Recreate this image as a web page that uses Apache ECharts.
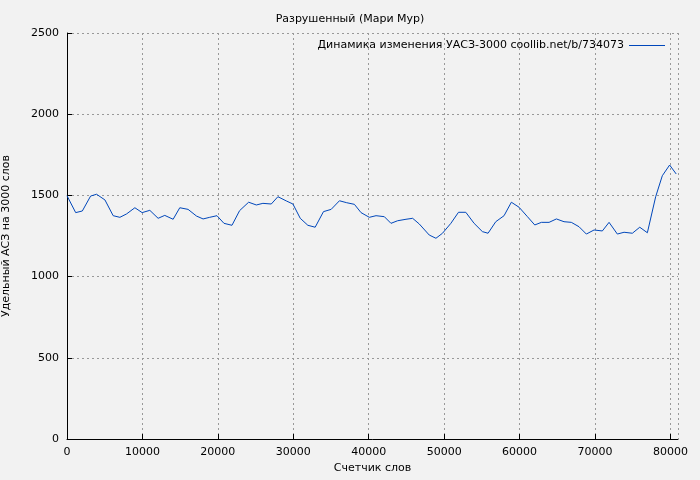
<!DOCTYPE html>
<html>
<head>
<meta charset="utf-8">
<script src="https://cdn.jsdelivr.net/npm/echarts@6/dist/echarts.min.js"></script>
<style>body{margin:0;background:#f2f2f2}#chart{width:700px;height:480px}</style>
</head>
<body>
<div id="chart"></div>
<script>
// words counted vs specific AСЗ value
var words = [0,1150,2030,3130,3920,5030,6120,7010,7900,9000,9960,10980,12080,12960,14070,14950,16050,17160,18040,18920,19880,20810,21870,22880,24080,25100,25970,27080,27960,29070,29950,30920,31930,32900,34000,35020,36120,37080,38100,38980,40080,40970,42070,42950,43830,44940,45820,46700,48020,48910,49780,50890,51900,52870,53970,55070,55820,56840,57940,58910,59930,61040,62010,62890,63910,64880,65890,66860,67880,68850,69870,70970,71860,72960,73850,74950,75930,76940,78040,78920,79890,80760];
var values = [1498,1394,1404,1496,1507,1472,1375,1365,1386,1424,1394,1408,1359,1377,1353,1424,1414,1373,1355,1365,1375,1328,1316,1406,1458,1441,1451,1447,1492,1466,1447,1359,1316,1304,1400,1414,1467,1455,1445,1394,1365,1375,1369,1328,1344,1353,1359,1324,1256,1236,1267,1328,1396,1396,1328,1277,1267,1338,1375,1458,1427,1369,1318,1334,1334,1355,1338,1334,1307,1262,1287,1281,1334,1262,1273,1267,1304,1270,1492,1621,1687,1632];
var seriesName = 'Динамика изменения УАСЗ-3000 coollib.net/b/734073';

var data = words.map(function (w, i) { return [w, values[i]]; });

var chart = echarts.init(document.getElementById('chart'));
var font = 'DejaVu Sans';
var plain = function (v) { return String(v); };
var option = {
	backgroundColor: '#f2f2f2',
	animation: false,
	textStyle: { fontFamily: font },
	title: {
		text: 'Разрушенный (Мари Мур)',
		left: 'center', top: 9,
		textStyle: { fontSize: 11, fontWeight: 'normal', color: '#000', fontFamily: font }
	},
	legend: {
		right: 30, top: 35,
		itemWidth: 36, itemHeight: 1,
		icon: 'rect',
		align: 'right',
		itemGap: 6,
		textStyle: { fontSize: 11, color: '#000', fontFamily: font },
		data: [seriesName]
	},
	grid: { left: 67, right: 22, top: 33, bottom: 41, outerBoundsMode: 'none', containLabel: false },
	xAxis: {
		type: 'value', min: 0, max: 81000, interval: 10000,
		name: 'Счетчик слов', nameLocation: 'middle', nameGap: 24,
		nameTextStyle: { fontSize: 11, color: '#000' },
		axisLine: { lineStyle: { color: '#000' } },
		axisTick: { inside: true, lineStyle: { color: '#000' } },
		axisLabel: { fontSize: 11, color: '#000', showMaxLabel: false, formatter: plain },
		splitLine: { lineStyle: { color: '#999', type: [2, 3] } }
	},
	yAxis: {
		type: 'value', min: 0, max: 2500, interval: 500,
		name: 'Удельный АСЗ на 3000 слов', nameLocation: 'middle', nameGap: 55,
		nameTextStyle: { fontSize: 11, color: '#000' },
		axisLine: { show: true, lineStyle: { color: '#000' } },
		axisTick: { show: true, inside: true, lineStyle: { color: '#000' } },
		axisLabel: { fontSize: 11, color: '#000', formatter: plain },
		splitLine: { lineStyle: { color: '#999', type: [2, 3] } }
	},
	series: [{
		name: seriesName,
		type: 'line',
		data: data,
		symbol: 'none',
		lineStyle: { width: 1, color: '#0047bb' },
		itemStyle: { color: '#0047bb' }
	}]
};
chart.setOption(option);
</script>
</body>
</html>
